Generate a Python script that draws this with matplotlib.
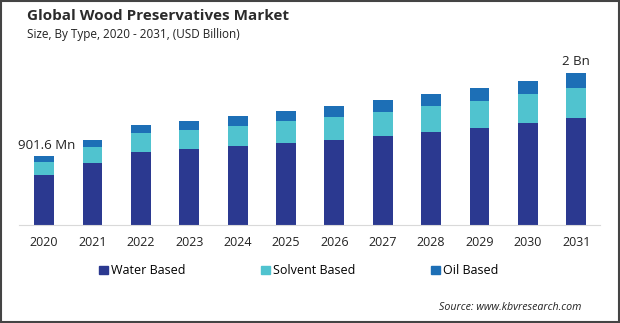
import numpy as np
import matplotlib
matplotlib.use('Agg')
import matplotlib.pyplot as plt
from matplotlib.patches import Rectangle

plt.rcParams['font.family'] = ['Open Sans', 'DejaVu Sans']

years = ['2020', '2021', '2022', '2023', '2024', '2025',
         '2026', '2027', '2028', '2029', '2030', '2031']
# USD billion
water = [0.653, 0.809, 0.953, 0.992, 1.031, 1.070,
         1.110, 1.162, 1.214, 1.266, 1.332, 1.397]
solvent = [0.170, 0.213, 0.248, 0.248, 0.261, 0.287,
           0.300, 0.313, 0.339, 0.352, 0.379, 0.392]
oil = [0.0786, 0.087, 0.104, 0.117, 0.131, 0.131,
       0.144, 0.157, 0.157, 0.170, 0.170, 0.196]
series = ['Water Based', 'Solvent Based', 'Oil Based']
colors = ['#2b3990', '#50c3cf', '#1d6fb6']
first_label = '901.6 Mn'
last_label = '2 Bn'

fig = plt.figure(figsize=(6.2, 3.23), dpi=100)
ax = fig.add_axes([0.0306, 0.303, 0.937, 0.5217])

x = np.arange(len(years))
bottom = np.zeros(len(years))
for vals, name, c in zip([water, solvent, oil], series, colors):
    ax.bar(x, vals, width=0.41, bottom=bottom, color=c, label=name)
    bottom += np.array(vals)

ax.set_xlim(-0.52, 11.49)
ax.set_ylim(0, 2.2)
for s in ['top', 'right', 'left']:
    ax.spines[s].set_visible(False)
ax.spines['bottom'].set_color('#d9d9d9')
ax.set_yticks([])
ax.set_xticks(x)
ax.set_xticklabels(years, fontsize=9, color='#222222')
ax.tick_params(axis='x', length=0, pad=8)

ax.annotate(first_label, (x[0], bottom[0]), xytext=(1.5, 3),
            textcoords='offset points', ha='center', va='bottom',
            fontsize=9.5, color='#222222')
ax.annotate(last_label, (x[-1], bottom[-1]), xytext=(0, 4),
            textcoords='offset points', ha='center', va='bottom',
            fontsize=9.5, color='#222222')

fig.text(0.0435, 0.950, 'Global Wood Preservatives Market', fontsize=11,
         fontweight='bold', color='#2b2b2b', va='center')
fig.text(0.0435, 0.892, 'Size, By Type, 2020 - 2031, (USD Billion)',
         fontsize=8.5, color='#222222', va='center')

handles = [Rectangle((0, 0), 1, 1, color=c) for c in colors]
fig.legend(handles, series, loc='center', bbox_to_anchor=(0.482, 0.161),
           ncol=3, frameon=False, fontsize=9, handlelength=0.7,
           handleheight=0.7, handletextpad=0.3, columnspacing=6.0)

fig.text(0.937, 0.049, 'Source: www.kbvresearch.com', fontsize=7.7,
         style='italic', color='#222222', ha='right', va='center')

fig.patches.append(Rectangle((0.001, 0.002), 0.997, 0.996,
                             transform=fig.transFigure, fill=False,
                             edgecolor='#444444', linewidth=1.5))

fig.savefig('out.png', dpi=100)
